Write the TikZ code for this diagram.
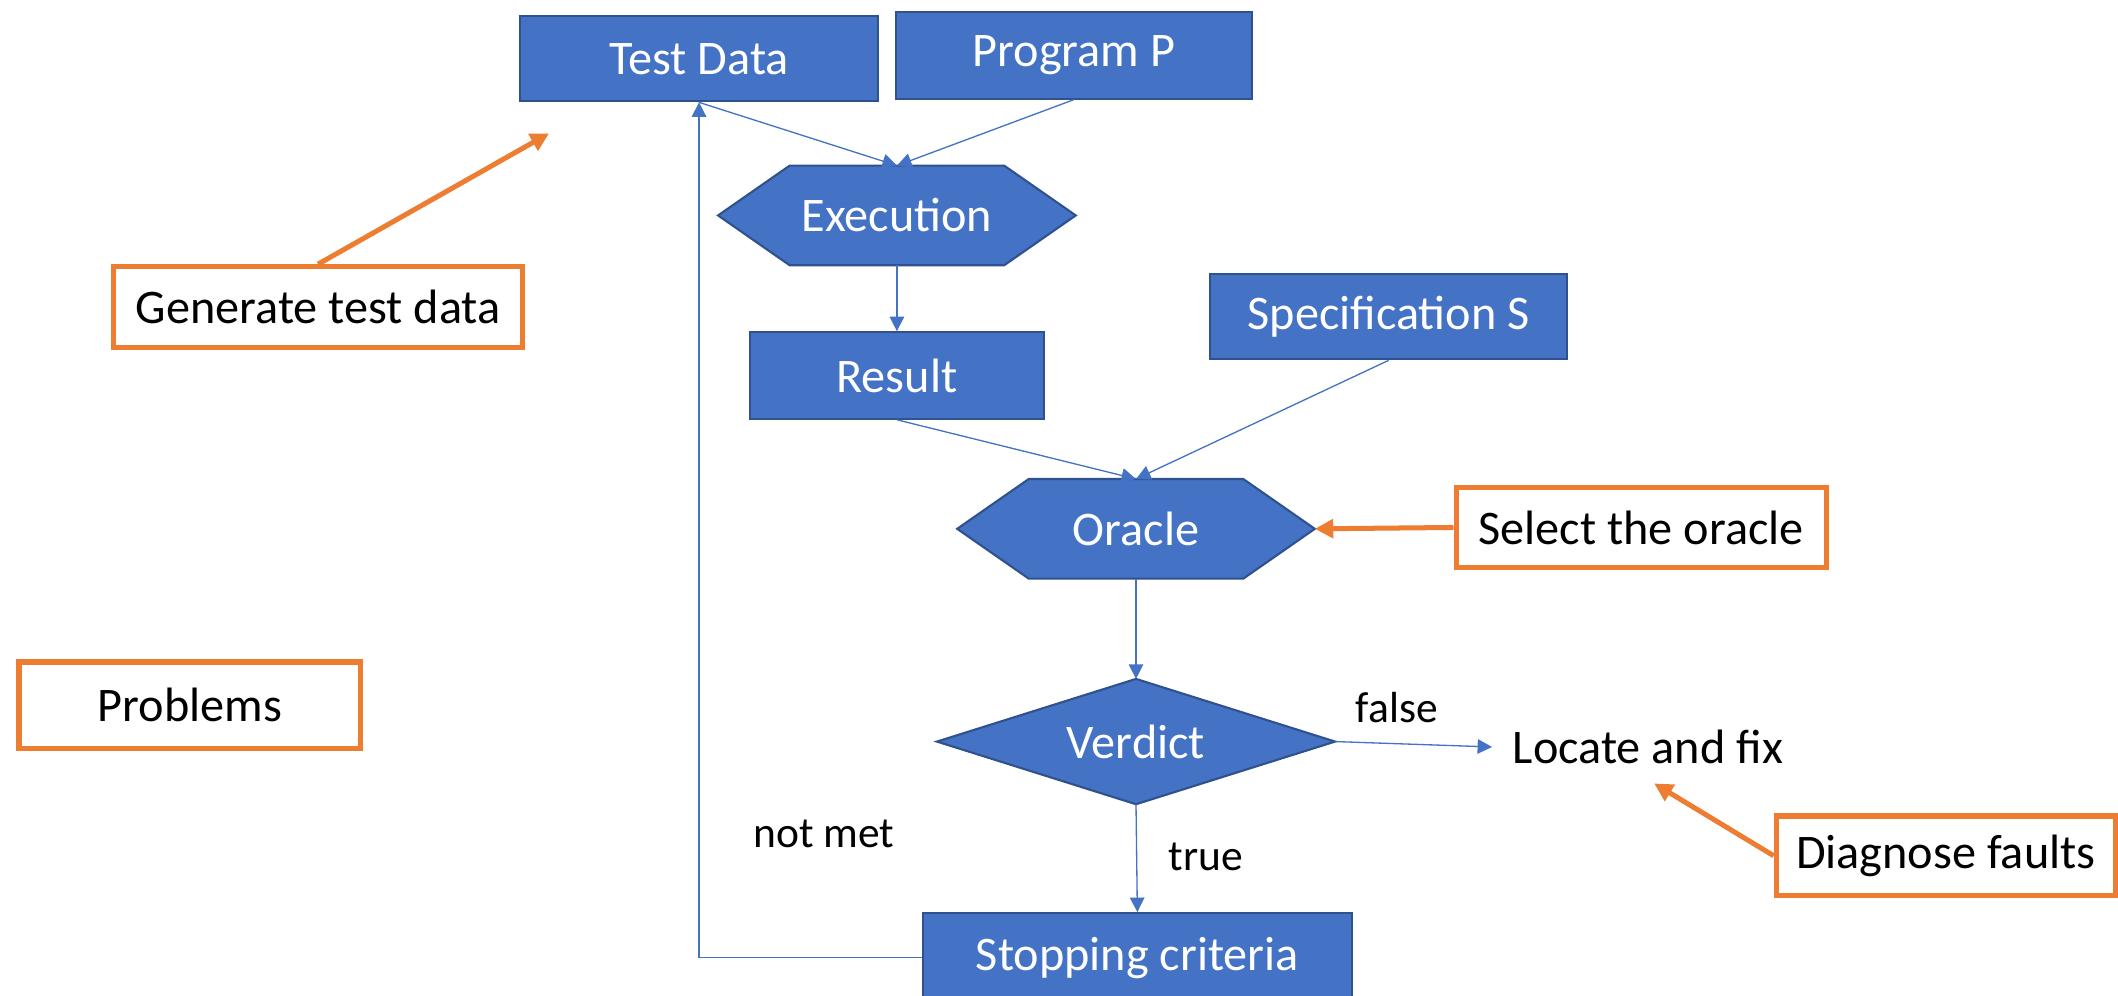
\documentclass[tikz,border=0pt]{standalone}
\usepackage{fontspec}
\setmainfont{Carlito}
\usetikzlibrary{arrows.meta,calc,backgrounds}
\definecolor{ofblue}{HTML}{4472C4}
\definecolor{ofedge}{HTML}{2F528F}
\definecolor{oforange}{HTML}{ED7D31}
\def\U{0.018cm}
\begin{document}
\begin{tikzpicture}[x=0.018cm,y=-0.018cm,
  blk/.style={draw=ofedge, line width=0.8pt, fill=ofblue, text=white,
    font=\fontsize{18.3}{22}\selectfont, inner sep=0pt},
  shp/.style={text=white, font=\fontsize{18.3}{22}\selectfont, inner sep=0pt},
  shpdraw/.style={draw=ofedge, line width=0.8pt, fill=ofblue},
  obox/.style={draw=oforange, line width=2pt, fill=white, text=black,
    font=\fontsize{18.3}{22}\selectfont, inner sep=0pt},
  lbl/.style={text=black, font=\fontsize{16.5}{19}\selectfont, inner sep=0pt},
  conn/.style={draw=ofblue, line width=0.5pt, -{Triangle[length=5.5pt,width=5.5pt]}},
  oarr/.style={draw=oforange, line width=1.9pt, -{Triangle[length=7pt,width=7pt]}}
]
\useasboundingbox (0,0) rectangle (1568,737);

% blue process nodes
\node[blk, minimum width=265*\U, minimum height=63*\U] (td) at (517.5,43.5) {Test Data};
\node[blk, minimum width=264*\U, minimum height=64*\U] (pp) at (795,41) {Program P};
\node[shp, minimum width=264*\U, minimum height=73*\U] (ex) at (664,159.5) {Execution};
\node[blk, minimum width=218*\U, minimum height=64*\U] (res) at (664,278) {Result};
\node[blk, minimum width=264*\U, minimum height=63*\U] (spec) at (1028,234.5) {Specification S};
\node[shp, minimum width=264*\U, minimum height=73*\U] (or) at (841,391.5) {Oracle};
\node[shp, minimum width=294*\U, minimum height=92*\U] (vd) at (841,549) {Verdict};
\node[blk, minimum width=318*\U, minimum height=66*\U] (stop) at (842,709) {Stopping criteria};

\begin{scope}[on background layer]
  \foreach \n in {ex,or}{
    \draw[shpdraw] (\n.west) -- ($(\n.north west)+(53,0)$) -- ($(\n.north east)+(-53,0)$)
      -- (\n.east) -- ($(\n.south east)+(-53,0)$) -- ($(\n.south west)+(53,0)$) -- cycle;
  }
  \draw[shpdraw] (vd.west) -- (vd.north) -- (vd.east) -- (vd.south) -- cycle;
\end{scope}

% plain text node
\node[text=black, font=\fontsize{18.3}{22}\selectfont, inner ysep=0pt, inner xsep=15*\U] (loc) at (1220,553) {Locate and fix};

% labels
\node[lbl] (lfalse) at (1034,524) {false};
\node[lbl] (ltrue) at (892.5,634.5) {true};
\node[lbl] (lnot) at (610,617) {not met};

% connectors
\draw[conn] (td.south) -- (ex.north);
\draw[conn] (pp.south) -- (ex.north);
\draw[conn] (ex.south) -- (res.north);
\draw[conn] (res.south) -- (or.north);
\draw[conn] (spec.south) -- (or.north);
\draw[conn] (or.south) -- (vd.north);
\draw[conn] (vd.east) -- (loc.west);
\draw[conn] (vd.south) -- (stop.north);
\draw[conn] (stop.west) -| (td.south);

% orange annotation boxes
\node[obox, minimum width=303*\U, minimum height=60*\U] (gen) at (235.5,227.5) {Generate test data};
\node[obox, minimum width=253*\U, minimum height=64*\U] (prob) at (140.5,522) {Problems};
\node[obox, minimum width=274*\U, minimum height=59*\U] (sel) at (1215,390.5) {Select the oracle};
\node[obox, minimum width=251*\U, minimum height=59*\U] (diag) at (1440.5,633.5) {Diagnose faults};

\coordinate (gentip) at (406.5,98.7);
\coordinate (diagtip) at (1224.6,580);
\draw[oarr] (gen.north) -- (gentip);
\draw[oarr] (sel.west) -- (or.east);
\draw[oarr] (diag.west) -- (diagtip);
\end{tikzpicture}
\end{document}
